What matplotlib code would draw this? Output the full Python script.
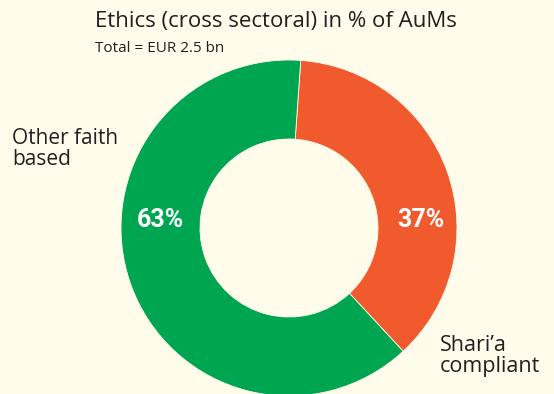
import matplotlib.pyplot as plt

# dados
categorias = ["Shari\u2019a\ncompliant", "Other faith\nbased"]
valores = [37, 63]
rotulos = ["37%", "63%"]
cores = ["#f15a2c", "#00a551"]

titulo = "Ethics (cross sectoral) in % of AuMs"
subtitulo = "Total = EUR 2.5 bn"

fundo = "#fffcec"
texto_cor = "#231f20"
W, H = 554, 394

fig = plt.figure(figsize=(W / 100, H / 100), dpi=100, facecolor=fundo)
ax = fig.add_axes([0, 0, 1, 1])
ax.set_facecolor(fundo)

# centro e raios em pixels (y invertido)
cx, cy = 289, H - 228
R, r = 168, 89

ax.pie(valores, colors=cores, startangle=86, counterclock=False,
       center=(cx, cy), radius=R, frame=True,
       wedgeprops=dict(width=R - r, edgecolor=fundo, linewidth=0.6))
ax.set_xlim(0, W)
ax.set_ylim(0, H)
ax.set_aspect("equal")
ax.axis("off")

fonte_pct = ["Roboto", "DejaVu Sans"]
meio = (R + r) / 2
ax.text(cx + meio + 3, cy + 8, rotulos[0], color="white", fontsize=18,
        fontweight="bold", family=fonte_pct, ha="center", va="center")
ax.text(cx - meio, cy + 8, rotulos[1], color="white", fontsize=18,
        fontweight="bold", family=fonte_pct, ha="center", va="center")

fonte = ["Open Sans", "DejaVu Sans"]
fig.text(95 / W, 1 - 22 / H, titulo, fontsize=16, color=texto_cor,
         family=fonte, ha="left", va="center")
fig.text(95 / W, 1 - 49 / H, subtitulo, fontsize=11, color=texto_cor,
         family=fonte, ha="left", va="center")

fig.text(12 / W, 1 - 149 / H, categorias[1], fontsize=15, color=texto_cor,
         family=fonte, ha="left", va="center", linespacing=1.05)
fig.text(440 / W, 1 - 356 / H, categorias[0], fontsize=15.5, color=texto_cor,
         family=fonte, ha="left", va="center", linespacing=1.05)

fig.savefig("out.png", dpi=100, facecolor=fundo)
